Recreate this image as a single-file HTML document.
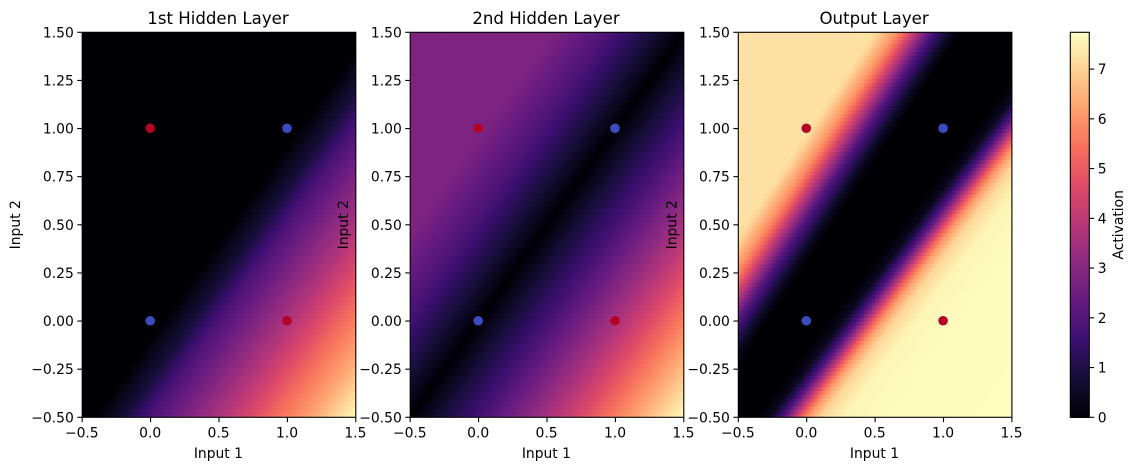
<!DOCTYPE html>
<html lang="en">
<head>
<meta charset="utf-8">
<title>Hidden layer activations</title>
<style>
html,body{margin:0;padding:0;background:#fff;width:1137px;height:470px;overflow:hidden}
svg{display:block}
text{font-family:"DejaVu Sans","Liberation Sans",sans-serif;fill:#000}
</style>
</head>
<body>
<svg id="chart" width="1137" height="470" viewBox="0 0 1137 470" xmlns="http://www.w3.org/2000/svg"></svg>
<script>
// ---- data ----
const panelTitles = ["1st Hidden Layer", "2nd Hidden Layer", "Output Layer"];
const xTickValues = [-0.5, 0, 0.5, 1, 1.5];
const xTickLabels = ["\u22120.5", "0.0", "0.5", "1.0", "1.5"];
const yTickValues = [-0.5, -0.25, 0, 0.25, 0.5, 0.75, 1, 1.25, 1.5];
const yTickLabels = ["\u22120.50", "\u22120.25", "0.00", "0.25", "0.50", "0.75", "1.00", "1.25", "1.50"];
const colorbarTicks = [0, 1, 2, 3, 4, 5, 6, 7];
const colorMax = 7.74;
const pointX = [0, 0, 1, 1];
const pointY = [0, 1, 0, 1];
const pointClass = [0, 1, 1, 0];

// Activation profiles across the diagonal bands: offset = input1 - slope * input2
const h1LowerOffset = [-2, 0.08, 0.3, 0.5, 1.0, 1.4, 1.7, 2.0];
const h1LowerValue = [0, 0, 0.8, 1.9, 3.7, 5.3, 6.4, 7.74];
const h1LowerSlope = 1;

const h2UpperOffset = [-2, -0.95, -0.56, -0.25, 0];
const h2UpperValue = [2.8, 2.8, 1.9, 0.9, 0];
const h2UpperSlope = 1;
const h2LowerOffset = [0, 0.25, 0.55, 1.0, 1.36, 1.7, 2.0];
const h2LowerValue = [0, 0.9, 1.9, 3.6, 5.1, 6.5, 7.74];
const h2LowerSlope = 1;

const outUpperOffset = [-2, -0.93, -0.895, -0.76, -0.685, -0.505, -0.354, -0.28];
const outUpperValue = [7.25, 7.25, 7.1, 6.0, 5.0, 2.0, 0.4, 0];
const outUpperSlope = 0.943;
const outLowerOffset = [0.15, 0.26, 0.365, 0.485, 0.55, 0.643, 0.8, 1.1, 2.2];
const outLowerValue = [0, 0.4, 2.0, 5.0, 6.2, 7.1, 7.6, 7.72, 7.74];
const outLowerSlope = 1.07;

const magmaStops = ["#000004","#140e36","#3b0f70","#641a80","#8c2981","#b73779","#de4968","#f7705c","#fe9f6d","#fecf92","#fcfdbf"];

// ---- layout ----
const NS = "http://www.w3.org/2000/svg";
const svg = document.getElementById("chart");
const top_ = 32.3, bottom_ = 417.3;
const panelLeft = [82.2, 410.2, 738.3];
const panelWidth = 273.6;
const gridSize = 100;

function make(tag, attrs, parent, text) {
  const el = document.createElementNS(NS, tag);
  for (const k in attrs) el.setAttribute(k, attrs[k]);
  if (text !== undefined) el.textContent = text;
  parent.appendChild(el);
  return el;
}
function xScale(left, v) { return left + (v + 0.5) / 2 * panelWidth; }
function yScale(v) { return bottom_ - (v + 0.5) / 2 * (bottom_ - top_); }
function interp(xs, ys, x) {
  if (x <= xs[0]) return ys[0];
  for (let i = 1; i < xs.length; i++) {
    if (x <= xs[i]) return ys[i-1] + (ys[i]-ys[i-1]) * (x-xs[i-1]) / (xs[i]-xs[i-1]);
  }
  return ys[ys.length-1];
}
function hexRgb(h) { return [1,3,5].map(i => parseInt(h.substr(i,2),16)); }
const magmaRgb = magmaStops.map(hexRgb);
function colour(v) {
  const t = Math.max(0, Math.min(1, v / colorMax)) * (magmaRgb.length - 1);
  const i = Math.min(magmaRgb.length - 2, Math.floor(t));
  const f = t - i;
  const c = magmaRgb[i].map((a, k) => Math.round(a + (magmaRgb[i+1][k] - a) * f));
  return "rgb(" + c.join(",") + ")";
}

const panelFields = [
  (x, y) => interp(h1LowerOffset, h1LowerValue, x - h1LowerSlope * y),
  (x, y) => Math.max(interp(h2UpperOffset, h2UpperValue, x - h2UpperSlope * y),
                     interp(h2LowerOffset, h2LowerValue, x - h2LowerSlope * y)),
  (x, y) => Math.max(interp(outUpperOffset, outUpperValue, x - outUpperSlope * y),
                     interp(outLowerOffset, outLowerValue, x - outLowerSlope * y))
];

const overlays = [];
panelTitles.forEach((title, p) => {
  const left = panelLeft[p];
  const right = left + panelWidth;
  const g = make("g", {}, svg);
  
  

  // heatmap cells (anti-aliased, overlapping slightly so edges blend like a resampled image)
  const heat = make("g", {}, g);
  
  
  const frag = document.createDocumentFragment();
  const step = 2 / gridSize;
  for (let i = 0; i < gridSize; i++) {
    for (let j = 0; j < gridSize; j++) {
      const xv = -0.5 + step * i, yv = -0.5 + step * j;
      const cell = document.createElementNS(NS, "rect");
      const x0 = xScale(left, xv), y1 = yScale(yv + step);
      cell.setAttribute("x", x0.toFixed(2));
      cell.setAttribute("y", y1.toFixed(2));
      cell.setAttribute("width", (panelWidth / gridSize + 0.6).toFixed(2));
      cell.setAttribute("height", ((bottom_ - top_) / gridSize + 0.6).toFixed(2));
      cell.setAttribute("fill", colour(panelFields[p](xv + step / 2, yv + step / 2)));
      
      
      frag.appendChild(cell);
    }
  }
  heat.appendChild(frag);
  // trim any overdraw past the axes box
  const maskR = make("rect", {x: right, y: top_ - 1, width: 2, height: bottom_ - top_ + 3, fill: "#fff"}, g);
  
  
  const maskB = make("rect", {x: left - 1, y: bottom_, width: panelWidth + 3, height: 2, fill: "#fff"}, g);
  
  

  // scatter points
  pointX.forEach((px, k) => {
    const dot = make("circle", {cx: xScale(left, px) - 0.4, cy: yScale(pointY[k]) - 0.3, r: 4.8,
      fill: pointClass[k] ? "#b40426" : "#3b4cc0"}, g);
    
    
  });

  // frame
  const frame = make("rect", {x: left, y: top_, width: panelWidth, height: bottom_ - top_,
    fill: "none", stroke: "#000", "stroke-width": 1.1}, g);
  
  

  // x ticks
  xTickValues.forEach((v, k) => {
    const x = xScale(left, v);
    const t = make("line", {x1: x, x2: x, y1: bottom_, y2: bottom_ + 4.9, stroke: "#000", "stroke-width": 1.1}, g);
    
    
    const l = make("text", {x: x - 0.4, y: 437.5, "font-size": 13.89, "text-anchor": "middle"}, g, xTickLabels[k]);
    
    
  });
  // y ticks
  yTickValues.forEach((v, k) => {
    const y = yScale(v);
    const t = make("line", {x1: left - 4.9, x2: left, y1: y, y2: y, stroke: "#000", "stroke-width": 1.1}, g);
    
    
    const l = make("text", {x: left - 8.4, y: y + 5, "font-size": 13.89, "text-anchor": "end"}, g, yTickLabels[k]);
    
    
  });

  const tt = make("text", {x: left + panelWidth / 2 - 1, y: 24, "font-size": 16.6, "text-anchor": "middle"}, g, title);
  
  
  const xl = make("text", {x: left + panelWidth / 2 - 0.6, y: 458, "font-size": 13.89, "text-anchor": "middle"}, g, "Input 1");
  
  
  overlays.push(left);
});

// y axis titles sit above neighbouring panels
overlays.forEach(left => {
  const bx = left - 62, by = 224.8;
  const yl = make("text", {x: bx, y: by, "font-size": 13.89, "text-anchor": "middle",
    transform: "rotate(-90 " + bx + " " + by + ")"}, svg, "Input 2");
  
  
});

// colorbar
const cbLeft = 1070.3, cbRight = 1089.3;
const cbScale = v => bottom_ - v / colorMax * (bottom_ - top_);
const cb = make("g", {}, svg);


const cbCells = make("g", {"shape-rendering": "crispEdges"}, cb);


const cbSteps = 256;
for (let i = 0; i < cbSteps; i++) {
  const v0 = colorMax * i / cbSteps, v1 = colorMax * (i + 1) / cbSteps;
  const r = make("rect", {x: cbLeft, y: cbScale(v1).toFixed(2), width: cbRight - cbLeft,
    height: (cbScale(v0) - cbScale(v1) + 0.6).toFixed(2), fill: colour((v0 + v1) / 2)}, cbCells);
  
  
}
const cbFrame = make("rect", {x: cbLeft, y: top_, width: cbRight - cbLeft, height: bottom_ - top_,
  fill: "none", stroke: "#000", "stroke-width": 1.1}, cb);


colorbarTicks.forEach(v => {
  const y = cbScale(v);
  const t = make("line", {x1: cbRight, x2: cbRight + 4.9, y1: y, y2: y, stroke: "#000", "stroke-width": 1.1}, cb);
  
  
  const l = make("text", {x: cbRight + 8.4, y: y + 5, "font-size": 13.89}, cb, String(v));
  
  
});
const cbTitle = make("text", {x: 1123, y: 224.8, "font-size": 13.89, "text-anchor": "middle",
  transform: "rotate(-90 1123 224.8)"}, cb, "Activation");


</script>
</body>
</html>
